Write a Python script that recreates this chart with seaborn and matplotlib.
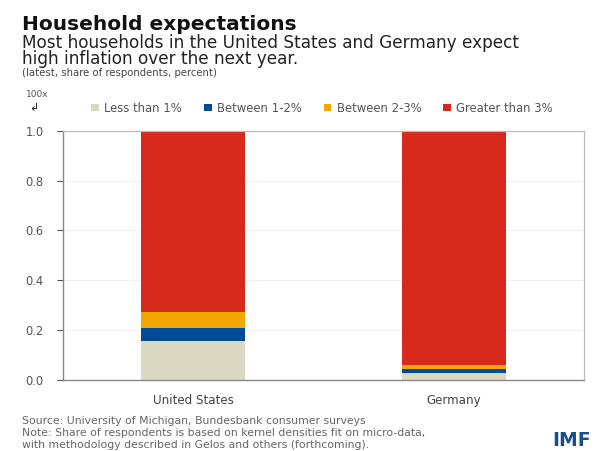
import matplotlib
matplotlib.use("Agg")
import matplotlib.pyplot as plt
import seaborn as sns
import pandas as pd
import numpy as np
from matplotlib.patches import Patch

countries = ["United States", "Germany"]
categories = ["Less than 1%", "Between 1-2%", "Between 2-3%", "Greater than 3%"]
less_1 = [0.155, 0.029]
between_1_2 = [0.052, 0.014]
between_2_3 = [0.064, 0.018]
greater_3 = [0.729, 0.939]
yticks = [0.0, 0.2, 0.4, 0.6, 0.8, 1.0]

colors = ["#dcd9c3", "#004b96", "#f0a800", "#d8291d"]

sns.set_theme(style="white")
plt.rcParams['font.family'] = ['DejaVu Sans']

fig = plt.figure(figsize=(5.98, 4.51), dpi=100)
ax = fig.add_axes([63/598, 1-380/451, (584-63)/598, (380-130.7)/451])

series = [less_1, between_1_2, between_2_3, greater_3]
bottom = np.zeros(len(countries))
for vals, col, name in zip(series, colors, categories):
    df = pd.DataFrame({"country": countries, "value": vals})
    sns.barplot(data=df, x="country", y="value", color=col, width=0.4,
                bottom=bottom, ax=ax, linewidth=0, edgecolor="none", saturation=1)
    bottom = bottom + np.array(vals)

ax.set_xlim(-0.5, 1.5)
ax.set_ylim(0, 1.0)
ax.set_yticks(yticks)
ax.set_yticklabels([f"{t:.1f}" for t in yticks])
ax.set_xlabel("")
ax.set_ylabel("")
ax.yaxis.grid(True, color="#efefef", linewidth=0.8)
ax.set_axisbelow(True)
ax.tick_params(axis="y", labelsize=8.3, colors="#555555", length=4, width=0.8, left=True, pad=10)
ax.tick_params(axis="x", labelsize=8.6, colors="#444444", length=0, pad=10)
for lbl in ax.get_yticklabels():
    lbl.set_color("#555555")
for s in ["left", "bottom"]:
    ax.spines[s].set_color("#888888")
    ax.spines[s].set_linewidth(1.0)
for s in ["top", "right"]:
    ax.spines[s].set_color("#bbbbbb")
    ax.spines[s].set_linewidth(0.9)

handles = [Patch(facecolor=c, edgecolor="none") for c in colors]
fig.legend(handles, categories, loc="center", bbox_to_anchor=(322/598, 1-108/451),
           ncol=4, frameon=False, fontsize=8.4, handlelength=0.65, handleheight=0.65,
           handletextpad=0.45, columnspacing=1.9, labelcolor="#555555")

fig.text(22/598, 1-25/451, "Household expectations", fontsize=14.5, fontweight="bold",
         color="#111111", va="center", ha="left")
fig.text(22/598, 1-51/451, "Most households in the United States and Germany expect\nhigh inflation over the next year.",
         fontsize=12.2, color="#222222", va="center", ha="left", linespacing=0.84)
fig.text(22/598, 1-72.5/451, "(latest, share of respondents, percent)", fontsize=7.3,
         color="#444444", va="center", ha="left")
fig.text(26/598, 1-94/451, "100x", fontsize=6.5, color="#555555", va="center", ha="left")
fig.text(29/598, 1-108/451, "↲", fontsize=8, color="#222222", va="center", ha="left")

fig.text(22/598, 1-433.5/451,
         "Source: University of Michigan, Bundesbank consumer surveys\n"
         "Note: Share of respondents is based on kernel densities fit on micro-data,\n"
         "with methodology described in Gelos and others (forthcoming).",
         fontsize=7.8, color="#666666", va="center", ha="left", linespacing=1.25)
fig.text(591/598, 1-441/451, "IMF", fontsize=13.5, fontweight="bold", color="#1a4f8f",
         va="center", ha="right")

fig.savefig("out.png", dpi=100)
